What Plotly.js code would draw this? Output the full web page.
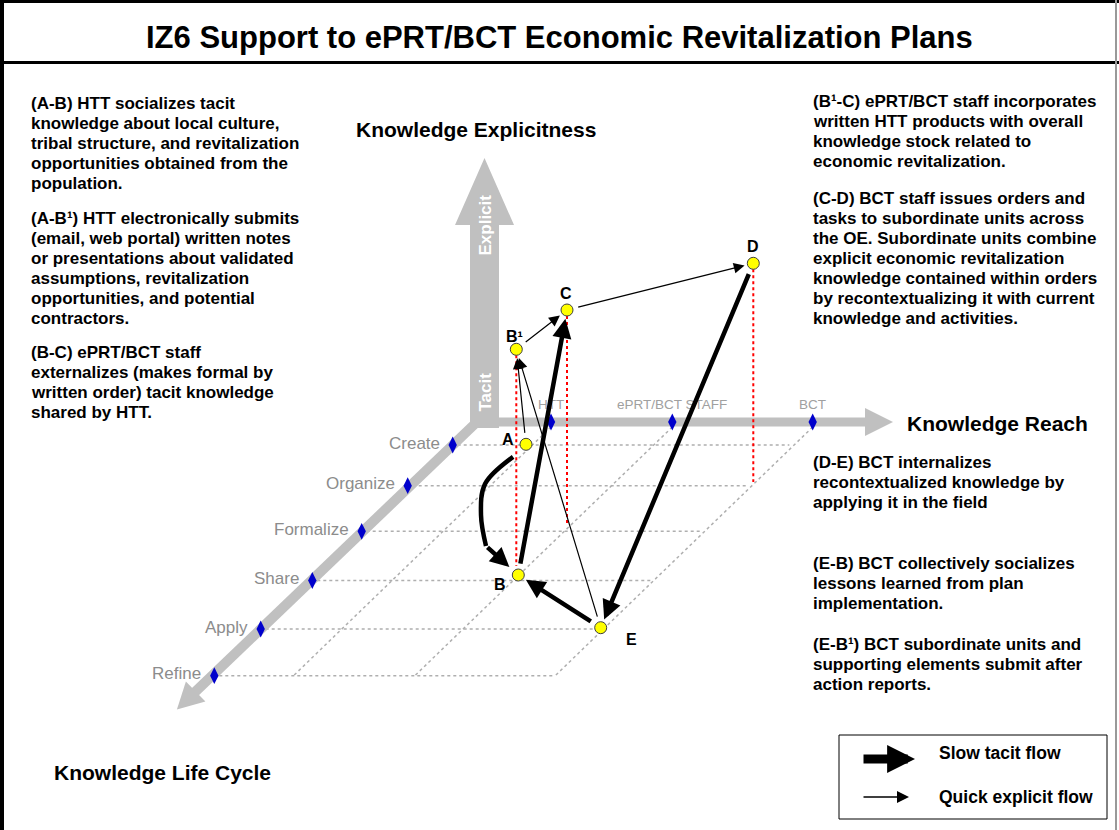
<!DOCTYPE html>
<html><head><meta charset="utf-8">
<script src="https://cdn.plot.ly/plotly-3.0.1.min.js"></script>
<style>html,body{margin:0;padding:0;background:#fff;overflow:hidden}#chart{width:1119px;height:830px}</style>
</head><body><div id="chart"></div>
<script>
// ================= DATA =================
const chartTitle = 'IZ6 Support to ePRT/BCT Economic Revitalization Plans';
const axisTitles = ['Knowledge Explicitness', 'Knowledge Reach', 'Knowledge Life Cycle'];
const explicitnessLabels = ['Explicit', 'Tacit'];

// Knowledge Reach axis ticks
const reachLabels = ['HTT', 'ePRT/BCT STAFF', 'BCT'];
const reachX = [551, 672.3, 812.7];

// Knowledge Life Cycle axis ticks
const lifeCycleLabels = ['Create', 'Organize', 'Formalize', 'Share', 'Apply', 'Refine'];
const lifeCycleX = [452.7, 407.7, 361.7, 312.3, 260.7, 214.3];
const lifeCycleY = [445, 485.7, 531.3, 580.5, 629, 675.7];

// Knowledge nodes
const nodeNames = ['A', 'B', 'B¹', 'C', 'D', 'E'];
const nodeX = [526, 518.3, 516.3, 567, 753.3, 600.7];
const nodeY = [444.3, 575, 349.3, 310, 263.3, 627.7];
const nodeFloorY = [null, null, 566, 525, 482, null];

// Knowledge flows
const flowFrom = ['A', 'A', 'B', 'B¹', 'C', 'D', 'E', 'E'];
const flowTo   = ['B', 'B¹', 'C', 'C', 'D', 'E', 'B', 'B¹'];
const flowKind = ['tacit', 'explicit', 'tacit', 'explicit', 'explicit', 'tacit', 'tacit', 'explicit'];
// route of the curved A-B flow
const curvedRouteX = [485, 481, 486];
const curvedRouteY = [484, 515, 546];

// Notes
const leftNotes = [
  ['(A-B) HTT socializes tacit', 'knowledge about local culture,', 'tribal structure, and revitalization', 'opportunities obtained from the', 'population.'],
  ['(A-B¹) HTT electronically submits', '(email, web portal) written notes', 'or presentations about validated', 'assumptions, revitalization', 'opportunities, and potential', 'contractors.'],
  ['(B-C) ePRT/BCT staff', 'externalizes (makes formal by', 'written order) tacit knowledge', 'shared by HTT.']
];
const rightNotes = [
  ['(B¹-C) ePRT/BCT staff incorporates', 'written HTT products with overall', 'knowledge stock related to', 'economic revitalization.'],
  ['(C-D) BCT staff issues orders and', 'tasks to subordinate units across', 'the OE. Subordinate units combine', 'explicit economic revitalization', 'knowledge contained within orders', 'by recontextualizing it with current', 'knowledge and activities.'],
  ['(D-E) BCT internalizes', 'recontextualized knowledge by', 'applying it in the field'],
  ['(E-B) BCT collectively socializes', 'lessons learned from plan', 'implementation.'],
  ['(E-B¹) BCT subordinate units and', 'supporting elements submit after', 'action reports.']
];
const legendLabels = ['Slow tacit flow', 'Quick explicit flow'];
const legendKinds = ['tacit', 'explicit'];

// ================= LAYOUT / STYLE =================
const W = 1119, H = 830;
const FONT = 'Liberation Sans, Arial, sans-serif';
const GRAY = '#C0C0C0';
const AXIS_Y = 422;
const ORIGIN_X = 470;
const GRID_SLOPE = 1.015;
const LIFE_DIR = [-0.7186, 0.6954];
const leftNoteTop = [103, 218, 352];
const rightNoteTop = [101, 198, 462, 563, 644];
const NOTE_STEP = 20;
const labelOffset = {'A': [-18, -5], 'B': [-18, 9], 'B¹': [-2, -13], 'C': [-1, -17], 'D': [0, -17], 'E': [31, 12]};
const flowStyle = {
  tacit: {width: 4.5, size: 0.85, head: 2},
  explicit: {width: 1.2, size: 1.8, head: 2}
};
const legendArrowStyle = {tacit: {width: 9, size: 0.62, head: 2}, explicit: {width: 1.5, size: 1.6, head: 2}};
const legendArrowY = [759, 797];
const legendLabelY = [753, 797];

const shapes = [];
const annotations = [];
const traces = [];

function line(x0, y0, x1, y1, color, width, dash) {
  shapes.push({type: 'line', xref: 'x', yref: 'y', x0, y0, x1, y1, layer: 'below',
    line: {color, width, dash: dash || 'solid'}});
}
function poly(pts, color) {
  const d = 'M' + pts.map(p => p[0].toFixed(1) + ',' + p[1].toFixed(1)).join('L') + 'Z';
  shapes.push({type: 'path', xref: 'x', yref: 'y', path: d, layer: 'below', fillcolor: color, line: {width: 0}});
}
function text(t, x, y, opts) {
  annotations.push(Object.assign({text: t, x, y, xref: 'x', yref: 'y', showarrow: false,
    xanchor: 'left', yanchor: 'middle',
    font: {family: FONT, size: 17, color: '#000', weight: 'bold'}}, opts || {}));
}
function arrow(sx, sy, ex, ey, st) {
  annotations.push({text: '', x: ex, y: ey, ax: sx, ay: sy, xref: 'x', yref: 'y', axref: 'x', ayref: 'y',
    showarrow: true, arrowhead: st.head, arrowsize: st.size, arrowwidth: st.width, arrowcolor: '#000', standoff: 0});
}

// ---- frame ----
line(2, 0, 2, H, '#000', 4);
line(0, 1.5, W, 1.5, '#000', 3);
line(0, 62.5, W, 62.5, '#000', 3);
line(1116, 0, 1116, H, '#999', 2);

// ---- grid on the floor ----
const refineY = lifeCycleY[lifeCycleY.length - 1];
const slantX = (x0, y) => x0 - GRID_SLOPE * (y - AXIS_Y);
lifeCycleY.forEach((y, i) => {
  line(lifeCycleX[i] + 5, y, slantX(reachX[reachX.length - 1], y), y, '#AFAFAF', 1.5, 'dot');
});
reachX.forEach(x => {
  line(x, AXIS_Y + 5, slantX(x, refineY), refineY, '#AFAFAF', 1.5, 'dot');
});

// ---- explicitness axis (wide vertical arrow) ----
poly([[470, 428], [470, 225], [455, 225], [484.5, 158], [514, 225], [499, 225], [499, 428]], GRAY);
// ---- reach axis ----
line(ORIGIN_X, AXIS_Y, 866, AXIS_Y, GRAY, 9);
poly([[865, AXIS_Y - 14], [893, AXIS_Y], [865, AXIS_Y + 14]], GRAY);
// ---- life cycle axis ----
{
  const start = [480, 419];
  const tip = [ORIGIN_X + 3 + LIFE_DIR[0] * 412, AXIS_Y + 1 + LIFE_DIR[1] * 412];
  const n = [LIFE_DIR[1], -LIFE_DIR[0]];
  const base = [tip[0] - LIFE_DIR[0] * 26, tip[1] - LIFE_DIR[1] * 26];
  line(start[0], start[1], base[0] + LIFE_DIR[0], base[1] + LIFE_DIR[1], GRAY, 10);
  poly([[base[0] + n[0] * 14, base[1] + n[1] * 14], tip, [base[0] - n[0] * 14, base[1] - n[1] * 14]], GRAY);
}

// ---- red projection lines ----
nodeNames.forEach((nm, i) => {
  if (nodeFloorY[i] !== null) line(nodeX[i], nodeY[i] + 6, nodeX[i], nodeFloorY[i], '#FF0000', 2, 'dot');
});

// ---- tick diamonds ----
traces.push({type: 'scatter', mode: 'markers', x: reachX, y: reachX.map(() => AXIS_Y),
  marker: {symbol: 'diamond-tall', size: 12, color: '#0000CC'}, hoverinfo: 'skip'});
traces.push({type: 'scatter', mode: 'markers', x: lifeCycleX, y: lifeCycleY,
  marker: {symbol: 'diamond-tall', size: 12, color: '#0000CC'}, hoverinfo: 'skip'});

// ---- tick labels ----
reachLabels.forEach((t, i) => text(t, reachX[i], 404,
  {xanchor: 'center', font: {family: FONT, size: 13.5, color: '#A0A0A0'}}));
lifeCycleLabels.forEach((t, i) => text(t, lifeCycleX[i] - 11, lifeCycleY[i] - 2,
  {xanchor: 'right', font: {family: FONT, size: 17, color: '#8C8C8C'}}));
text(explicitnessLabels[0], 484.5, 225, {xanchor: 'center', textangle: -90, font: {family: FONT, size: 17, color: '#fff', weight: 'bold'}});
text(explicitnessLabels[1], 484.5, 392, {xanchor: 'center', textangle: -90, font: {family: FONT, size: 17, color: '#fff', weight: 'bold'}});

// ---- axis titles ----
const headFont = {family: FONT, size: 21, color: '#000', weight: 'bold'};
text(axisTitles[0], 475.5, 129, {xanchor: 'center', font: headFont});
text(axisTitles[1], 905, 423, {font: headFont});
text(axisTitles[2], 52, 772, {font: headFont});

// ---- title ----
text(chartTitle, 559, 37, {xanchor: 'center', font: {family: FONT, size: 31, color: '#000', weight: 'bold'}});

// ---- notes ----
leftNotes.forEach((blk, b) => blk.forEach((t, k) => text(t, 28.5, leftNoteTop[b] + k * NOTE_STEP)));
rightNotes.forEach((blk, b) => blk.forEach((t, k) => text(t, 810.5, rightNoteTop[b] + k * NOTE_STEP)));

// ---- flows ----
const idx = nm => nodeNames.indexOf(nm);
function toward(px, py, qx, qy, d) {
  const dx = qx - px, dy = qy - py, L = Math.hypot(dx, dy);
  return [px + dx / L * d, py + dy / L * d];
}
flowFrom.forEach((f, k) => {
  const a = idx(f), b = idx(flowTo[k]);
  const st = flowStyle[flowKind[k]];
  if (k === 0) {
    // curved tacit flow A -> B
    const s = toward(nodeX[a], nodeY[a], curvedRouteX[0], curvedRouteY[0], 18);
    const last = curvedRouteX.length - 1;
    const e = toward(nodeX[b], nodeY[b], curvedRouteX[last], curvedRouteY[last], 12);
    traces.push({type: 'scatter', mode: 'lines', x: [s[0]].concat(curvedRouteX), y: [s[1]].concat(curvedRouteY),
      line: {color: '#000', width: st.width, shape: 'spline', smoothing: 1}, hoverinfo: 'skip'});
    arrow(curvedRouteX[last], curvedRouteY[last], e[0], e[1], st);
  } else {
    const s = toward(nodeX[a], nodeY[a], nodeX[b], nodeY[b], 10);
    const e = toward(nodeX[b], nodeY[b], nodeX[a], nodeY[a], 9);
    arrow(s[0], s[1], e[0], e[1], st);
  }
});

// ---- nodes ----
traces.push({type: 'scatter', mode: 'markers', x: nodeX, y: nodeY,
  marker: {size: 12, color: '#FFFF00', line: {color: '#404040', width: 1}}, hoverinfo: 'skip'});
nodeNames.forEach((nm, i) => text(nm, nodeX[i] + labelOffset[nm][0], nodeY[i] + labelOffset[nm][1],
  {xanchor: 'center', font: {family: FONT, size: 16, color: '#000', weight: 'bold'}}));

// ---- legend ----
shapes.push({type: 'rect', xref: 'x', yref: 'y', x0: 839, y0: 735, x1: 1107, y1: 819, line: {color: '#000', width: 1}, fillcolor: 'rgba(0,0,0,0)'});
legendKinds.forEach((kind, i) => arrow(862, legendArrowY[i], kind === 'tacit' ? 915 : 909, legendArrowY[i], legendArrowStyle[kind]));
legendLabels.forEach((t, i) => text(t, 937, legendLabelY[i], {font: {family: FONT, size: 17.5, color: '#000', weight: 'bold'}}));

const layout = {
  width: W, height: H, margin: {l: 0, r: 0, t: 0, b: 0, pad: 0},
  paper_bgcolor: '#fff', plot_bgcolor: '#fff', showlegend: false,
  xaxis: {range: [0, W], visible: false, fixedrange: true},
  yaxis: {range: [H, 0], visible: false, fixedrange: true},
  shapes, annotations
};
Plotly.newPlot('chart', traces, layout, {staticPlot: true, displayModeBar: false});
</script></body></html>
